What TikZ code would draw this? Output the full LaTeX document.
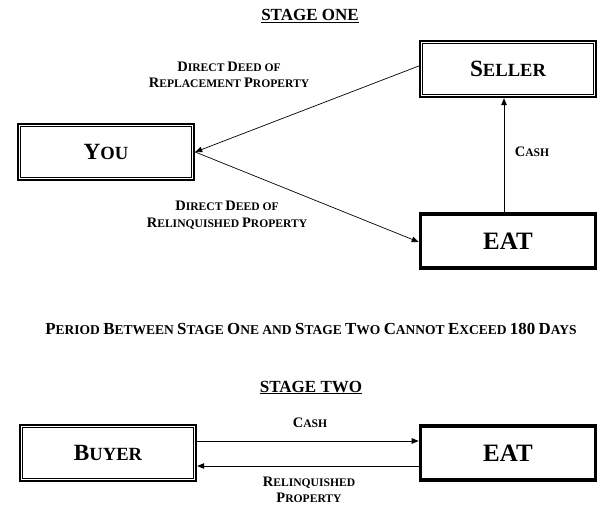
\documentclass[tikz,border=0pt]{standalone}
\usepackage{fontspec}
\setmainfont{Liberation Serif}
\usetikzlibrary{arrows.meta}
\makeatletter
\newcommand\B[1]{{\fontsize{\strip@pt\dimexpr1.25\dimexpr\f@size pt\relax\relax}{\f@baselineskip}\selectfont #1}}
\makeatother
\tikzset{
  box/.style={draw, line width=2.4pt, minimum width=176pt, minimum height=56pt, inner sep=0pt},
  eatbox/.style={draw, line width=3.6pt, minimum width=175pt, minimum height=54pt, inner sep=0pt,
    font=\bfseries\fontsize{25}{28}\selectfont},
  boxtext/.style={font=\bfseries\fontsize{18.6}{22}\selectfont},
  lbl/.style={font=\bfseries\fontsize{11.6}{16.5}\selectfont, align=center, inner sep=0pt},
  head/.style={font=\bfseries\fontsize{17}{20}\selectfont, inner sep=0pt},
  conn/.style={line width=0.7pt, -{Triangle[length=7pt,width=5.5pt]}},
}
\newcommand\inner[1]{\draw[line width=0.9pt] ([shift={(3.4pt,-3.4pt)}]#1.north west) rectangle ([shift={(-3.4pt,3.4pt)}]#1.south east);}
\begin{document}
\begin{tikzpicture}[x=1pt,y=-1pt]
\useasboundingbox (0,0) rectangle (599,509);
% Stage one
\node[head, anchor=base] (s1) at (310,20.5) {\underline{STAGE ONE}};
\node[box, boxtext] (seller) at (508,69) {\B{S}ELLER};
\node[box, boxtext] (you) at (106,152) {\B{Y}OU};
\node[eatbox] (eat1) at (508,241) {EAT};
\inner{seller}
\inner{you}
\node[lbl] (l1) at (229,75) {\B{D}IRECT \B{D}EED OF\\\B{R}EPLACEMENT \B{P}ROPERTY};
\node[lbl] (l2) at (227,215) {\B{D}IRECT \B{D}EED OF\\\B{R}ELINQUISHED \B{P}ROPERTY};
\node[lbl] (l3) at (532,152) {\B{C}ASH};
\draw[conn] ([yshift=3pt]seller.west) -- (you.east);
\draw[conn] (you.east) -- ([yshift=-1pt]eat1.west);
\draw[conn] ([xshift=-4pt]eat1.north) -- ([xshift=-4pt]seller.south);
% period
\node[font=\bfseries\fontsize{13.5}{16}\selectfont, inner sep=0pt] (per) at (311,329)
  {\B{P}ERIOD \B{B}ETWEEN \B{S}TAGE \B{O}NE AND \B{S}TAGE \B{T}WO \B{C}ANNOT \B{E}XCEED \B{180} \B{D}AYS};
% Stage two
\node[head, anchor=base] (s2) at (311,392) {\underline{STAGE TWO}};
\node[box, boxtext] (buyer) at (108,453) {\B{B}UYER};
\node[eatbox] (eat2) at (508,453) {EAT};
\inner{buyer}
\node[lbl] (l4) at (310,423) {\B{C}ASH};
\node[lbl] (l5) at (309,490) {\B{R}ELINQUISHED\\\B{P}ROPERTY};
\draw[conn] ([yshift=12pt]buyer.east) -- ([yshift=12pt]eat2.west);
\draw[conn] ([yshift=-13pt]eat2.west) -- ([yshift=-13pt]buyer.east);
\end{tikzpicture}
\end{document}
